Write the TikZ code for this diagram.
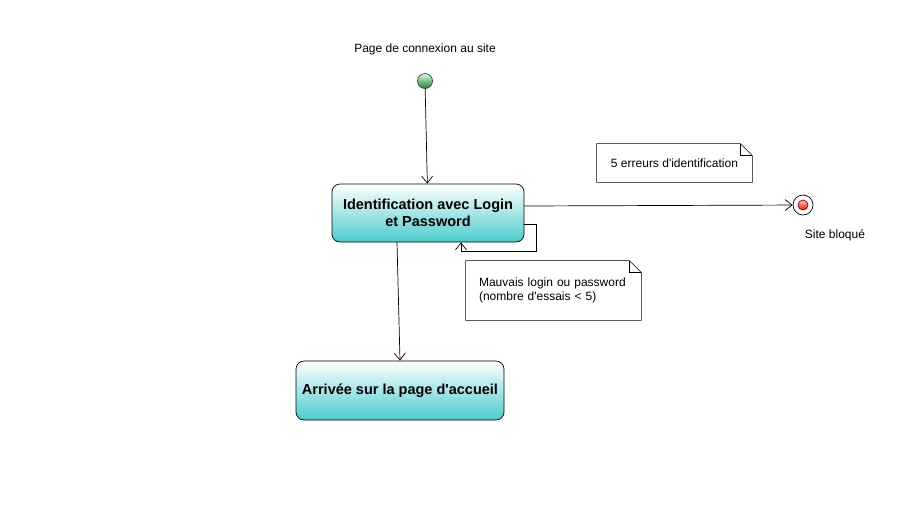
\documentclass[tikz,border=0pt]{standalone}
\usepackage{fontspec}
\setmainfont{Liberation Sans}
\usetikzlibrary{arrows.meta}
\usetikzlibrary{positioning}
\definecolor{etatbas}{RGB}{74,204,204}
\definecolor{initvert}{RGB}{40,120,60}
\newcommand{\apos}{\textquotesingle}

\tikzset{
	etat/.style={draw, rounded corners=8pt, top color=white, bottom color=etatbas,
		font=\fontsize{14.5}{17.5}\selectfont\bfseries, align=center, inner sep=0pt},
	note/.style={minimum height=38pt, inner sep=0pt, align=left,
		font=\fontsize{12}{14}\selectfont},
	texte/.style={font=\fontsize{12}{14}\selectfont, inner sep=0pt}
}

\begin{document}
\begin{tikzpicture}[x=1pt,y=-1pt,>={Straight Barb[length=7pt,width=11pt]},line width=0.7pt]
	\useasboundingbox[fill=white] (0,0) rectangle (899,504);
	\node[circle, draw=initvert!70!black, top color=green!15!white, bottom color=initvert,
		minimum size=15pt, inner sep=0pt] (start) at (425,81) {};
	\node[texte] (titre) [above=18pt of start] {Page de connexion au site};
	\node[etat, minimum width=192pt, minimum height=58pt] (ident) at (428,213)
		{Identification avec Login\\et Password};
	\node[etat, minimum width=208pt, minimum height=59pt] (accueil) at (400,390.5)
		{Arriv\'ee sur la page d\apos accueil};
	\node[circle, draw, fill=white, minimum size=20pt, inner sep=0pt] (fin) at (803,205) {};
	\node[circle, draw=red!50!black, top color=red!25!white, bottom color=red!85!orange,
		minimum size=10pt, inner sep=0pt] (finint) at (fin) {};
	\node[texte] (bloque) at (835,235) {Site bloqu\'e};
	\node[note, minimum width=155pt] (note1) at (674.5,163) {5 erreurs d\apos identification};
	\node[note, minimum width=175pt, minimum height=59pt, text width=149pt] (note2) at (553.5,290.5)
		{Mauvais login ou password\\(nombre d\apos essais < 5)};
	\foreach \n in {note1,note2}{
		\draw[line width=0.6pt] (\n.north west) -- ([xshift=-12pt]\n.north east)
			-- ([yshift=-12pt]\n.north east) -- (\n.south east) -- (\n.south west) -- cycle;
		\draw[line width=0.6pt] ([xshift=-12pt]\n.north east) -- ([xshift=-12pt,yshift=-12pt]\n.north east)
			-- ([yshift=-12pt]\n.north east);
	}
	\path[->]	(start) edge (ident)
			([yshift=7pt]ident.east) edge (fin)
			([xshift=-31pt]ident.south) edge (accueil.north);
	\draw[->] ([yshift=-11pt]ident.east) -- ++(12,0) -- ++(0,27) -| ([xshift=33pt]ident.south);
\end{tikzpicture}
\end{document}
